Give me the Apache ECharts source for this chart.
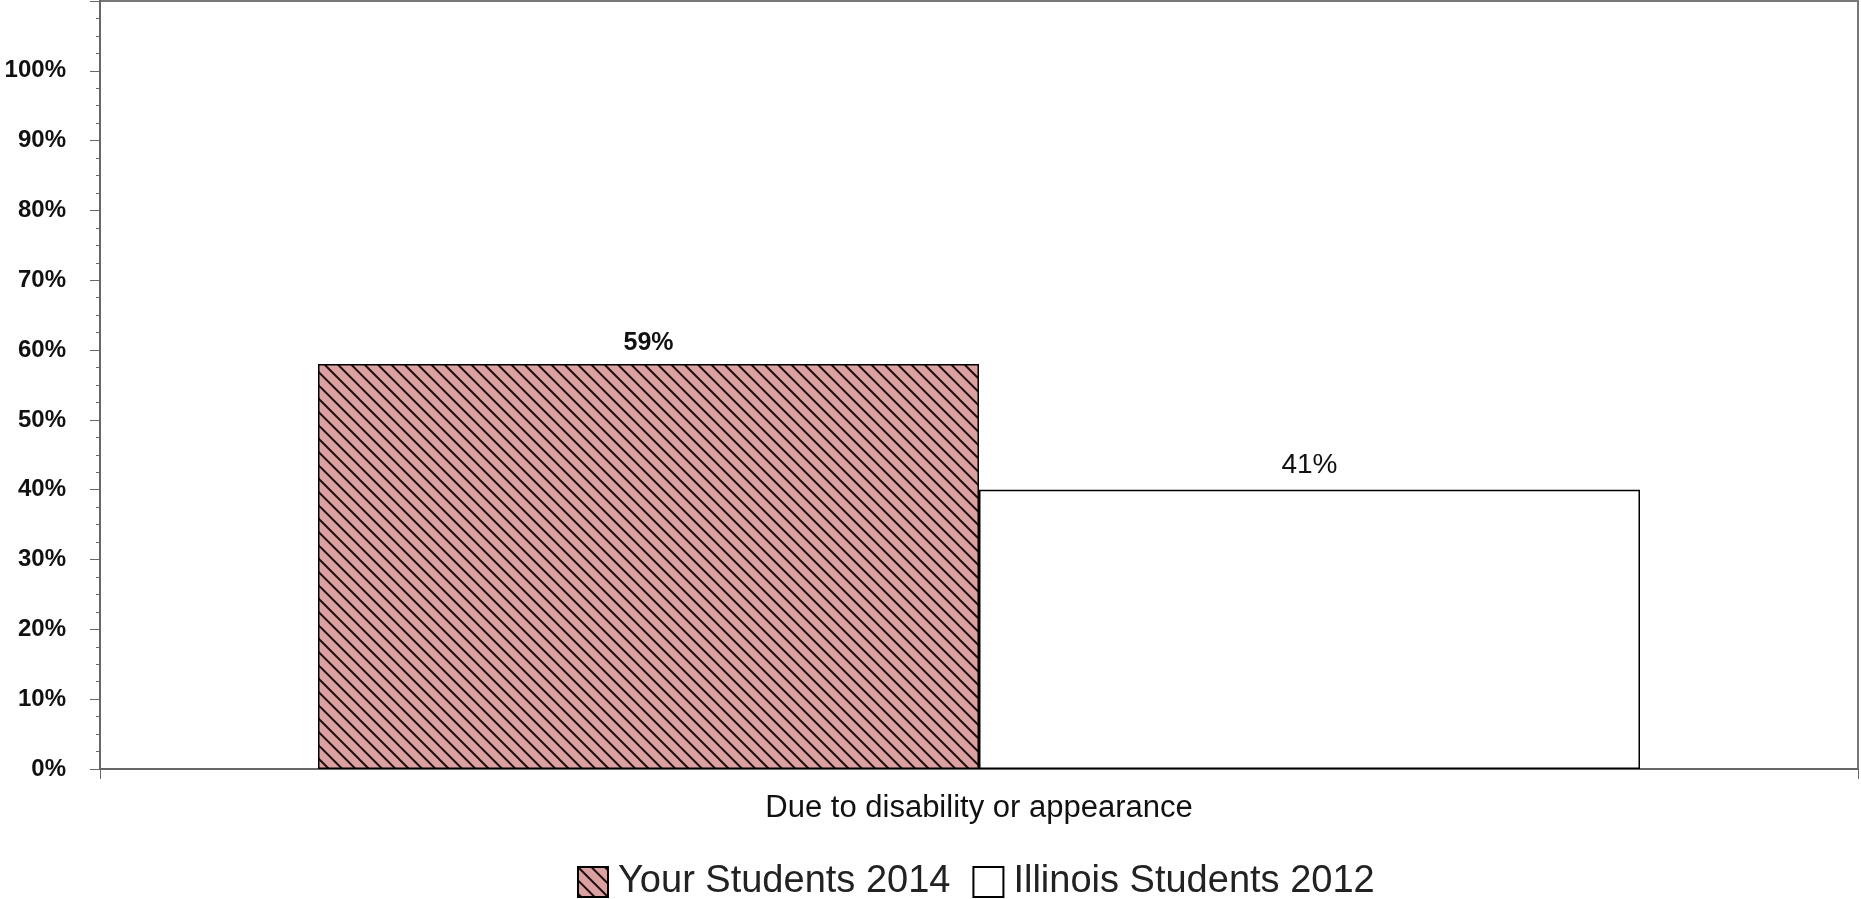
<!DOCTYPE html>
<html><head><meta charset="utf-8">
<script src="https://cdn.jsdelivr.net/npm/echarts@6/dist/echarts.min.js"></script>
<style>html,body{margin:0;padding:0;background:#fff}#c{width:1861px;height:899px}</style>
</head><body><div id="c"></div>
<script>
const categories = ['Due to disability or appearance'];
const seriesNames = ['Your Students 2014', 'Illinois Students 2012'];
const yourStudents2014 = [58];
const illinoisStudents2012 = [40];
const yourStudentsLabels = ['59%'];
const illinoisLabels = ['41%'];

function makeHatch() {
  const s = 40, step = 40 / 3;
  const c = document.createElement('canvas'); c.width = s; c.height = s;
  const g = c.getContext('2d');
  g.fillStyle = '#DBA1A0'; g.fillRect(0, 0, s, s);
  g.strokeStyle = '#1e0d0d'; g.lineWidth = 2;
  for (let k = -4; k <= 4; k++) {
    g.beginPath(); g.moveTo(k * step - 5, -5); g.lineTo(k * step + s + 5, s + 5); g.stroke();
  }
  return c;
}
const hatch = { image: makeHatch(), repeat: 'repeat' };
const FONT = 'Liberation Sans, Arial, sans-serif';

const chart = echarts.init(document.getElementById('c'), null, { renderer: 'canvas' });
chart.setOption({
  animation: false,
  backgroundColor: '#fff',
  grid: { left: 100, right: 3, top: 1, bottom: 130, show: true, borderColor: '#777', borderWidth: 2, backgroundColor: 'transparent' },
  legend: {
    data: seriesNames, left: 572, top: 857, itemWidth: 30, itemHeight: 30, itemGap: 22, icon: 'rect',
    textStyle: { fontSize: 38, color: '#222', fontFamily: FONT, padding: [0, 0, 0, 5], lineHeight: 40 }
  },
  xAxis: {
    type: 'category', data: categories,
    axisLine: { lineStyle: { color: '#666', width: 2 } },
    axisTick: { show: true, length: 10, lineStyle: { color: '#666' } },
    axisLabel: { fontSize: 31, color: '#111', fontFamily: FONT, margin: 24 }
  },
  yAxis: {
    type: 'value', min: 0, max: 110, interval: 10,
    axisLine: { show: true, lineStyle: { color: '#666', width: 2 } },
    axisTick: { show: true, length: 10, lineStyle: { color: '#666' } },
    minorTick: { show: true, splitNumber: 4, length: 4, lineStyle: { color: '#666' } },
    splitLine: { show: false },
    axisLabel: { fontSize: 24, fontWeight: 'bold', color: '#111', fontFamily: FONT, margin: 34,
      formatter: v => v > 100 ? '' : v + '%' }
  },
  series: [
    { name: seriesNames[0], type: 'bar', data: yourStudents2014, barWidth: 661, barGap: '0%',
      itemStyle: { color: hatch, borderColor: '#000', borderWidth: 1.5 },
      label: { show: true, position: 'top', distance: 8, fontSize: 25, fontWeight: 'bold', color: '#111', fontFamily: FONT,
        formatter: p => yourStudentsLabels[p.dataIndex] } },
    { name: seriesNames[1], type: 'bar', data: illinoisStudents2012, barWidth: 661, barGap: '0%',
      itemStyle: { color: '#fff', borderColor: '#000', borderWidth: 1.5 },
      label: { show: true, position: 'top', distance: 10, fontSize: 28, color: '#111', fontFamily: FONT,
        formatter: p => illinoisLabels[p.dataIndex] } }
  ]
});
</script></body></html>
